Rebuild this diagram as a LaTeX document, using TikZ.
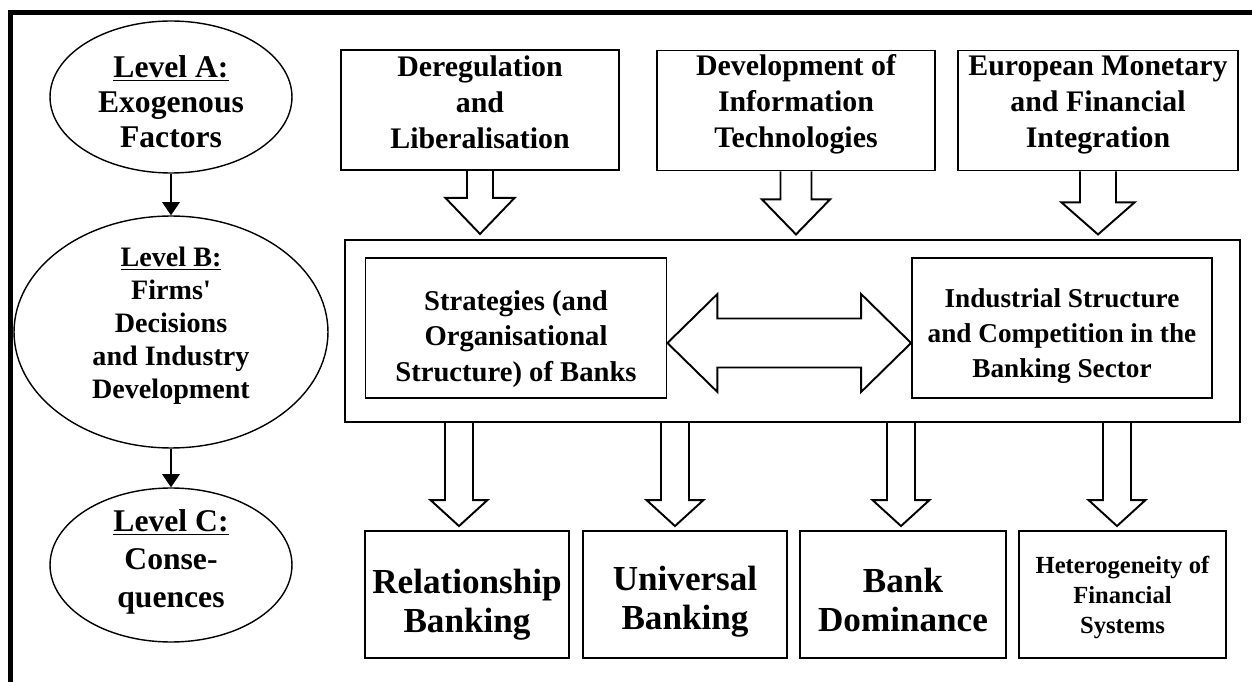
\documentclass[tikz,border=0pt]{standalone}
\usepackage{fontspec}
\setmainfont{Liberation Serif}
\usetikzlibrary{calc,shapes.geometric,arrows.meta}

\begin{document}
\begin{tikzpicture}[
		x=0.02cm, y=-0.02cm,
		level/.style={ellipse,draw,line width=0.8pt,inner sep=0pt},
		box/.style={draw,line width=1.1pt,inner sep=0pt},
		factor/.style={box,minimum width=5.56cm,minimum height=2.4cm},
		inner/.style={box,minimum width=6.02cm,minimum height=2.8cm},
		outcome/.style={box,minimum width=4.1cm,minimum height=2.54cm},
		txt/.style 2 args={align=center,inner sep=0pt,font=\fontsize{#1}{#2}\selectfont\bfseries},
		hollow/.style={line width=1.1pt,line join=miter},
		link/.style={-{Triangle[width=10pt,length=7.5pt]},line width=0.9pt},
]

\useasboundingbox (0,0) rectangle (1252,682);

% frame, only top and left
\draw [line width=2.8pt] (10.5,682) -- (10.5,12.5) -- (1252,12.5);

\newcommand*{\hollowdown}[5]{%
	% #1 = shaft start, #2 = tip
	% #3 = half shaft, #4 = half head, #5 = head length
	\draw [hollow] ($(#1)+(-#3,0)$) -- ($(#2)+(-#3,-#5)$) -- ($(#2)+(-#4,-#5)$) -- (#2)
		-- ($(#2)+(#4,-#5)$) -- ($(#2)+(#3,-#5)$) -- ($(#1)+(#3,0)$);
}

% levels
\node [level,minimum width=4.84cm,minimum height=3.04cm] (levA) at (171,97) {};
\node [level,minimum width=6.28cm,minimum height=4.64cm] (levB) at (171,332) {};
\node [level,minimum width=4.84cm,minimum height=3.08cm] (levC) at (171,565) {};
\node [txt={18}{20}] (levAtxt) at ($(levA)+(0,5)$) {\underline{Level A:}\\Exogenous\\Factors};
\node [txt={16}{18.8}] (levBtxt) at ($(levB)+(0,-6)$)
	{\underline{Level B:}\\Firms\textquotesingle\\Decisions\\and Industry\\Development};
\node [txt={18}{21.6}] (levCtxt) at ($(levC)+(0,-3.5)$) {\underline{Level C:}\\Conse-\\quences};

\draw [link] (levA) -- (levB);
\draw [link] (levB) -- (levC);

% exogenous factors
\node [factor] (dereg) at (480,110) {};
\node [factor] (infotech) at (796,110.5) {};
\node [factor,minimum width=5.6cm] (emu) at (1098,110.5) {};
\node [txt={17}{20.5}] (deregtxt) at ($(dereg)+(0,-8)$) {Deregulation\\and\\Liberalisation};
\node [txt={17}{20.5}] (infotxt) at ($(infotech)+(0,-6.5)$) {Development of\\Information\\Technologies};
\node [txt={17}{20.5}] (emutxt) at ($(emu)+(0,-5)$) {European Monetary\\and Financial\\Integration};

% industry development
\node [box,minimum width=17.9cm,minimum height=3.64cm] (core) at (792.5,331) {};
\node [inner] (strat) at (516,328) {};
\node [inner,minimum width=6cm] (indus) at (1062,328) {};
\node [txt={16.3}{20}] (strattxt) at ($(strat)+(0,11)$) {Strategies (and\\Organisational\\Structure) of Banks};
\node [txt={15.5}{20}] (industxt) at ($(indus)+(0,8)$) {Industrial Structure\\and Competition in the\\Banking Sector};

\coordinate (deregtip) at ($(dereg.south)+(0,63)$);
\coordinate (infotip) at ($(infotech.south)+(0,63)$);
\coordinate (emutip) at ($(emu.south)+(0,63)$);
\hollowdown{dereg.south}{deregtip}{13}{34.5}{36}
\hollowdown{infotech.south}{infotip}{15.5}{34}{35}
\hollowdown{emu.south}{emutip}{18}{36.5}{32}

\coordinate (ltip) at ($(strat.east)+(0,15)$);
\coordinate (rtip) at ($(indus.west)+(0,15)$);
\draw [hollow] (ltip) -- ++(50,-49) -- ++(0,24.5) -- ($(rtip)+(-50,-24.5)$) -- ++(0,-24.5)
	-- (rtip) -- ++(-50,49) -- ++(0,-24.5) -- ($(ltip)+(50,24.5)$) -- ++(0,24.5) -- cycle;

% consequences
\node [outcome,minimum width=4.08cm] (relbank) at (467,594.5) {};
\node [outcome,minimum width=4.08cm] (unibank) at (685,594.5) {};
\node [outcome,minimum width=4.12cm] (bankdom) at (903,594.5) {};
\node [outcome,minimum width=4.14cm] (hetero) at (1122.5,594.5) {};
\node [txt={20}{22.3}] (relbanktxt) at ($(relbank)+(0,10)$) {Relationship\\Banking};
\node [txt={20}{22.3}] (unibanktxt) at ($(unibank)+(0,7.5)$) {Universal\\Banking};
\node [txt={20}{22.3}] (bankdomtxt) at ($(bankdom)+(0,5.5)$) {Bank\\Dominance};
\node [txt={14}{17}] (heterotxt) at ($(hetero)+(0,3)$) {Heterogeneity of\\Financial\\Systems};

\foreach \xa/\target in {459/relbank,675/unibank,901/bankdom,1117/hetero} {
	\coordinate (col) at (\xa,0);
	\coordinate (src) at (col |- core.south);
	\coordinate (tip) at ($(col |- \target.north)+(0,-4)$);
	\hollowdown{src}{tip}{14}{28.5}{26}
}

\end{tikzpicture}
\end{document}
